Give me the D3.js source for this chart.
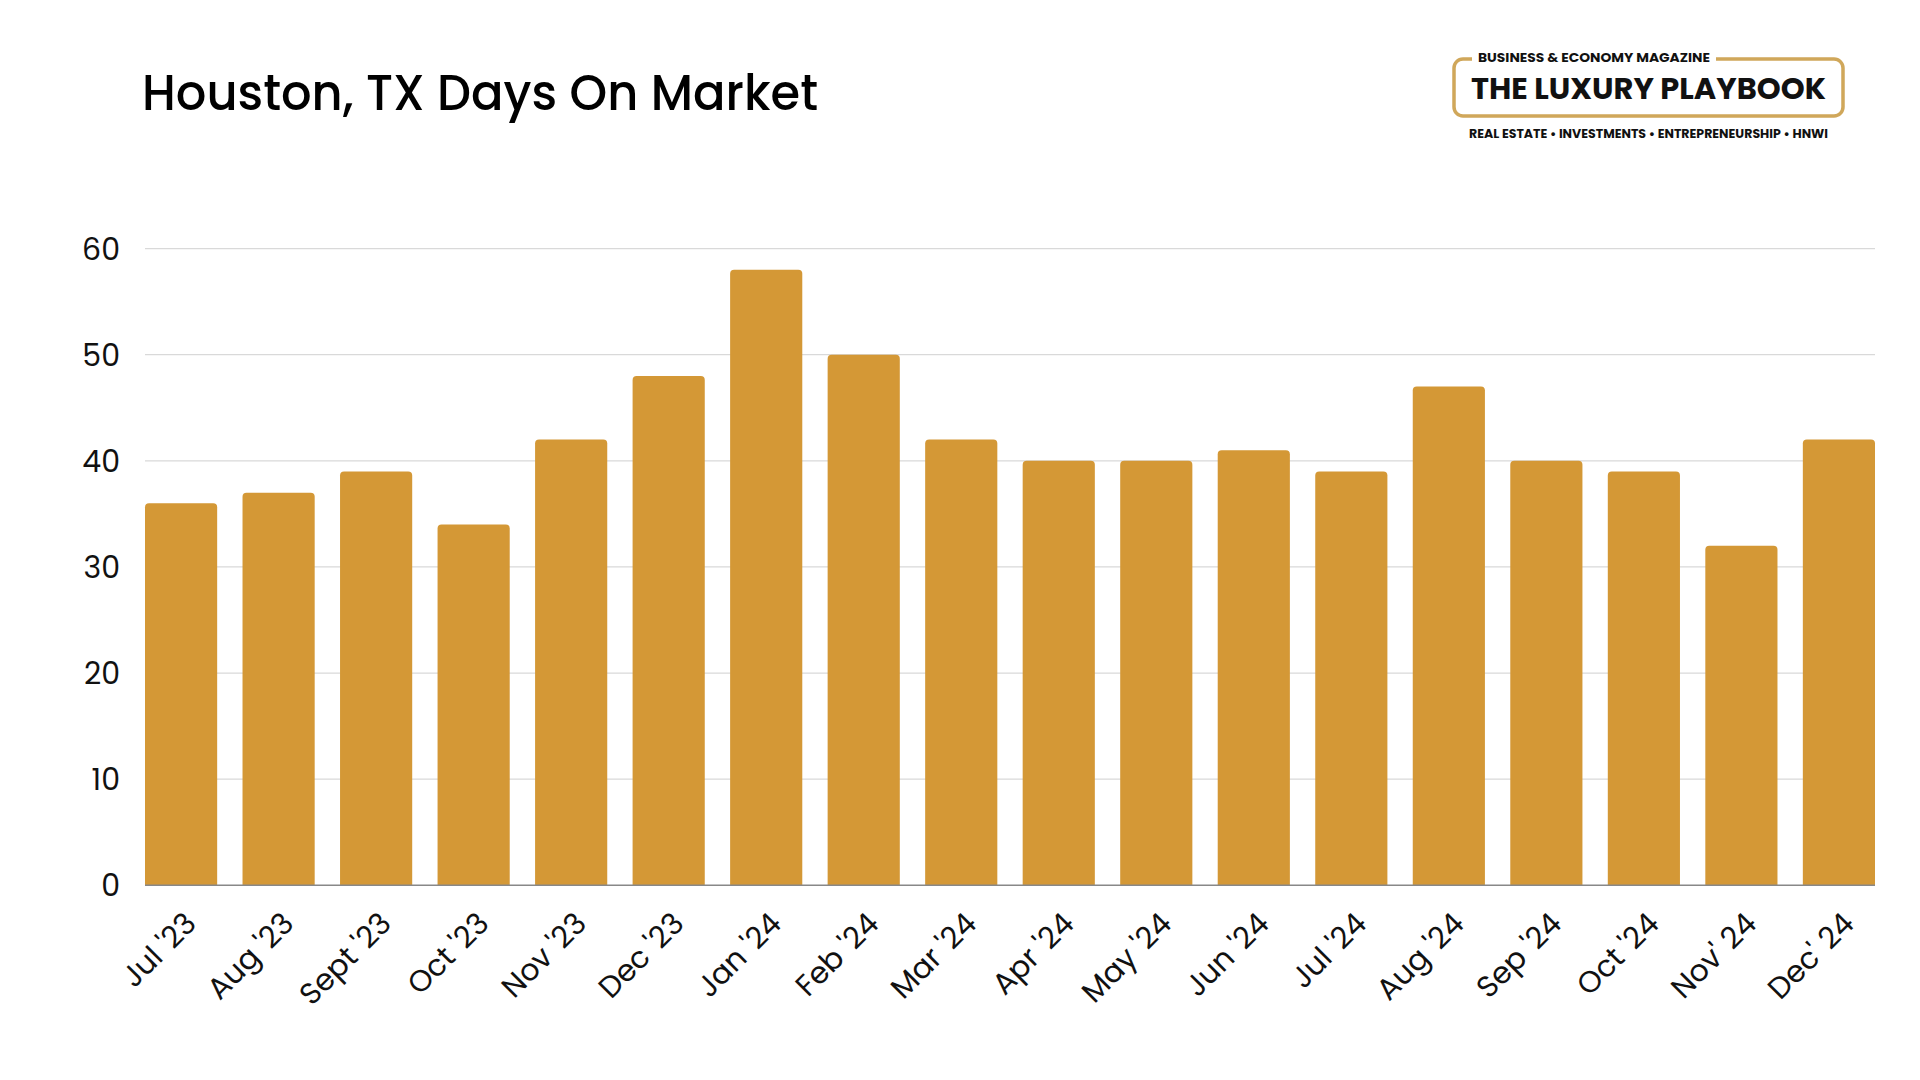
<!DOCTYPE html>
<html><head><meta charset="utf-8">
<script src="https://cdn.jsdelivr.net/npm/d3@7"></script>
<style>
html,body{margin:0;padding:0;background:#fff;}
svg{display:block;}
</style></head>
<body>
<svg id="chart" width="1920" height="1080"></svg>
<script>
const categories = ["Jul '23","Aug '23","Sept '23","Oct '23","Nov '23","Dec '23","Jan '24","Feb '24","Mar '24","Apr '24","May '24","Jun '24","Jul '24","Aug '24","Sep '24","Oct '24","Nov' 24","Dec' 24"];
const values = [36,37,39,34,42,48,58,50,42,40,40,41,39,47,40,39,32,42];
const yTicks = [0,10,20,30,40,50,60];

(function(){
const svg = d3.select("#chart");
const W = 1920, H = 1080;
const mLeft = 145, mRight = 1875, mTop = 248.6, mBottom = 885.3;
const font = "Poppins, 'Open Sans', sans-serif";

svg.append("rect").attr("width",W).attr("height",H).attr("fill","#fff");

const x = d3.scaleBand().domain(categories).range([mLeft,mRight]).paddingInner(0.26).paddingOuter(0);
const y = d3.scaleLinear().domain([0,60]).range([mBottom,mTop]);

svg.append("g").selectAll("line").data(yTicks.filter(d=>d>0)).join("line")
  .attr("x1",mLeft).attr("x2",mRight)
  .attr("y1",d=>y(d)).attr("y2",d=>y(d))
  .attr("stroke","#d9d9d9").attr("stroke-width",1.3);

const yAxis = d3.axisLeft(y).tickValues(yTicks).tickSize(0).tickPadding(0);
const gy = svg.append("g").attr("transform",`translate(${mLeft-25},0)`).call(yAxis);
gy.select(".domain").remove();
gy.selectAll("text").attr("font-family",font).attr("font-size",30).attr("fill","#111").attr("dy","0.35em");

const r = 4;
svg.append("g").selectAll("path").data(values).join("path")
  .attr("fill","#D49836")
  .attr("d",(d,i)=>{
    const x0 = x(categories[i]), w = x.bandwidth(), y0 = y(d), y1 = y(0);
    return `M${x0},${y1}V${y0+r}Q${x0},${y0} ${x0+r},${y0}H${x0+w-r}Q${x0+w},${y0} ${x0+w},${y0+r}V${y1}Z`;
  });

svg.append("line").attr("x1",mLeft).attr("x2",mRight).attr("y1",mBottom).attr("y2",mBottom)
  .attr("stroke","#888").attr("stroke-width",1.5);

const xAxis = d3.axisBottom(x).tickSize(0).tickPadding(0);
const gx = svg.append("g").attr("transform",`translate(0,${mBottom})`).call(xAxis);
gx.select(".domain").remove();
gx.selectAll("text")
  .attr("font-family",font).attr("font-size",30).attr("fill","#111")
  .attr("text-anchor","end")
  .attr("dy",0).attr("y",0)
  .attr("transform","translate(17,40) rotate(-45)");

svg.append("text").attr("x",142).attr("y",110)
  .attr("font-family",font).attr("font-size",50).attr("font-weight",500).attr("fill","#000")
  .attr("textLength",676).attr("lengthAdjust","spacingAndGlyphs")
  .text("Houston, TX Days On Market");

const lg = svg.append("g");
const gold = "#D0A75A";
lg.append("rect").attr("x",1454).attr("y",59).attr("width",389).attr("height",57).attr("rx",9)
  .attr("fill","none").attr("stroke",gold).attr("stroke-width",3.5);
lg.append("rect").attr("x",1472).attr("y",50).attr("width",244).attr("height",16).attr("fill","#fff");
lg.append("text").attr("x",1478).attr("y",62).attr("font-family",font).attr("font-weight",700)
  .attr("font-size",12.5).attr("fill","#111").attr("textLength",232).attr("lengthAdjust","spacingAndGlyphs")
  .text("BUSINESS & ECONOMY MAGAZINE");
lg.append("text").attr("x",1471).attr("y",99).attr("font-family",font).attr("font-weight",700)
  .attr("font-size",29).attr("fill","#111").attr("textLength",355).attr("lengthAdjust","spacingAndGlyphs")
  .text("THE LUXURY PLAYBOOK");
lg.append("text").attr("x",1469).attr("y",138).attr("font-family",font).attr("font-weight",700)
  .attr("font-size",12).attr("fill","#111").attr("textLength",359).attr("lengthAdjust","spacingAndGlyphs")
  .text("REAL ESTATE • INVESTMENTS • ENTREPRENEURSHIP • HNWI");
})();
</script>
</body></html>
